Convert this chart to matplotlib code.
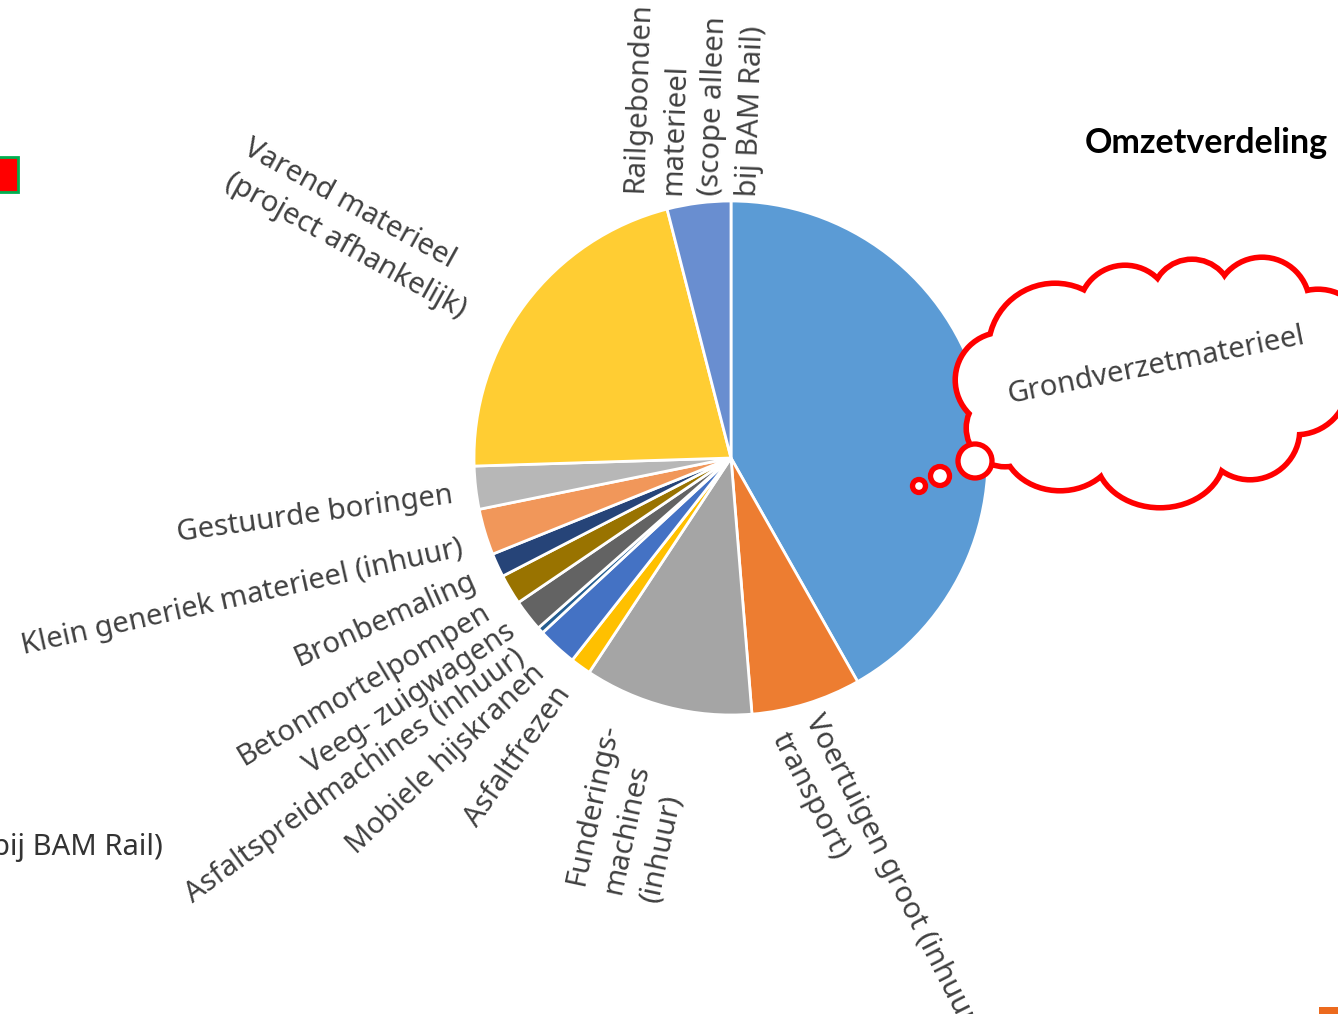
import numpy as np
import matplotlib.pyplot as plt
from matplotlib.patches import Circle, Ellipse, Rectangle

W, H = 1338, 1014

# aandeel omzet per soort materieel (%), met de klok mee vanaf 12 uur
labels = ["Grondverzetmaterieel",
          "Voertuigen groot (inhuur\ntransport)",
          "Funderings-\nmachines\n(inhuur)",
          "Asfaltfrezen",
          "Mobiele hijskranen",
          "Asfaltspreidmachines (inhuur)",
          "Veeg- zuigwagens",
          "Betonmortelpompen",
          "Bronbemaling",
          "Klein generiek materieel (inhuur)",
          "Gestuurde boringen",
          "Varend materieel\n(project afhankelijk)",
          "Railgebonden\nmaterieel\n(scope alleen\nbij BAM Rail)"]
values = [41.8, 6.9, 10.6, 1.3, 2.5, 0.4, 2.0, 1.9, 1.5, 2.9, 2.7, 21.5, 4.0]
colors = ["#5B9BD5", "#ED7D31", "#A5A5A5", "#FFC000", "#4472C4", "#255E91",
          "#636363", "#997300", "#264478", "#F1975A", "#B7B7B7", "#FFCD33",
          "#698ED0"]

# plaats van de labels (hoek en afstand t.o.v. het middelpunt, draaiing)
lab_ang = [12.6, -76.5, -107, -125.6, -132, -136.7, -141.9, -148, -154.5,
           -161.4, -172.4, 147.7, 98.5]
lab_r = [284, 275, 287, 285, 285, 287, 278, 287, 284, 283, 281, 305, 266]
lab_rot = [11.4, -63, 78, 55, 43.5, 36, 34, 31, 24, 12.6, 7.9, -29, 88]
lab_ha = ["left", "left", "right", "right", "right", "right", "right",
          "right", "right", "right", "right", "right", "left"]

# wolk: (x, y, breedte, hoogte) in pixels, y van boven
cloud = [(1003, 380, 90, 90), (1055, 350, 128, 128), (1125, 312, 88, 88),
         (1192, 300, 76, 76), (1262, 305, 90, 90), (1318, 340, 96, 96),
         (1296, 382, 100, 100), (1250, 430, 94, 94), (1160, 455, 124, 100),
         (1060, 442, 110, 92), (1005, 428, 72, 72)]
bubbles = [(975, 461, 17), (940, 476, 9.5), (919, 486, 6.5)]

cx, cy, R = 731, 458, 257
font = ["Noto Sans", "DejaVu Sans"]


def Y(y):
    return H - y


fig = plt.figure(figsize=(W / 100, H / 100), dpi=100)
ax = fig.add_axes([0, 0, 1, 1])

ax.pie(values, colors=colors, startangle=90, counterclock=False,
       center=(cx, Y(cy)), radius=R,
       wedgeprops=dict(edgecolor="white", linewidth=2))

# wolk: eerst rode randen, dan witte vulling erover
for x, y, w, h in cloud:
    ax.add_patch(Ellipse((x, Y(y)), w, h, fill=False, ec="#FF0000",
                         lw=8, zorder=3))
for x, y, w, h in cloud:
    ax.add_patch(Ellipse((x, Y(y)), w, h, fc="white", ec="none", zorder=4))
ax.add_patch(Ellipse((1148, Y(380)), 310, 165, fc="white", ec="none", zorder=4))
for x, y, r in bubbles:
    ax.add_patch(Circle((x, Y(y)), r, fc="white", ec="#FF0000", lw=3.8,
                        zorder=5))

for txt, a, r, rot, ha in zip(labels, lab_ang, lab_r, lab_rot, lab_ha):
    t = np.deg2rad(a)
    ax.text(cx + r * np.cos(t), Y(cy) + r * np.sin(t), txt,
            rotation=rot, rotation_mode="anchor", ha=ha, va="center",
            multialignment="left", linespacing=1.42, fontsize=21,
            color="#404040", family=font, zorder=6)

ax.text(1328, Y(143), "Omzetverdeling", ha="right", va="center",
        fontsize=24.5, fontweight="bold", family=["Lato", "DejaVu Sans"],
        color="black", zorder=6)

# restanten van de dia
ax.add_patch(Rectangle((-5, Y(192)), 23, 35, fc="#FF0000", ec="#00B050",
                       lw=2, zorder=6))
ax.add_patch(Rectangle((1319, Y(1014)), 25, 7, fc="#EC6A1E", ec="none",
                       zorder=6))
ax.text(-8, Y(847), "bij BAM Rail)", ha="left", va="center", fontsize=21,
        color="#333333", family=font, zorder=6)

ax.set_xlim(0, W)
ax.set_ylim(0, H)
ax.set_aspect("auto")
ax.axis("off")
fig.savefig("out.png", dpi=100, facecolor="white")
